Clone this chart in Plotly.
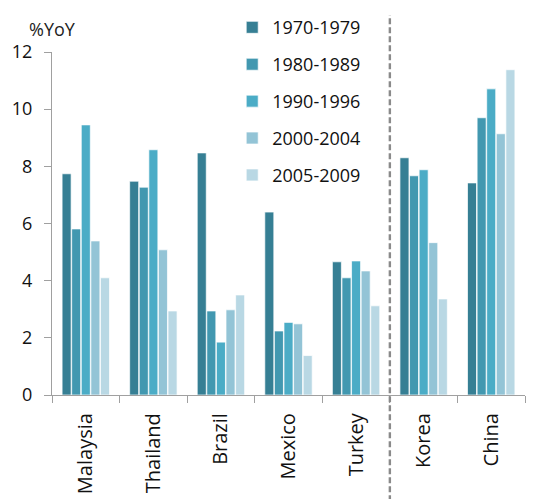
import plotly.graph_objects as go

# Average real GDP growth by period (%YoY)
countries = ["Malaysia", "Thailand", "Brazil", "Mexico", "Turkey", "Korea", "China"]
periods = ["1970-1979", "1980-1989", "1990-1996", "2000-2004", "2005-2009"]

g_1970_1979 = [7.74, 7.48, 8.47, 6.40, 4.66, 8.30, 7.42]
g_1980_1989 = [5.81, 7.27, 2.94, 2.24, 4.10, 7.67, 9.70]
g_1990_1996 = [9.45, 8.58, 1.85, 2.54, 4.69, 7.88, 10.71]
g_2000_2004 = [5.39, 5.08, 2.98, 2.49, 4.34, 5.33, 9.14]
g_2005_2009 = [4.10, 2.94, 3.50, 1.38, 3.12, 3.36, 11.38]

series = [g_1970_1979, g_1980_1989, g_1990_1996, g_2000_2004, g_2005_2009]
colors = ["#367f94", "#4298b0", "#4bacc6", "#93c4d6", "#b9d8e4"]

FONT = "Open Sans"

fig = go.Figure()
for name, vals, col in zip(periods, series, colors):
    fig.add_trace(go.Bar(
        x=countries, y=vals, name=name,
        legendgroup=name,
        marker=dict(color=col, line=dict(color="rgba(255,255,255,0.7)", width=1)),
    ))

# Dashed divider between the two country groups
fig.add_shape(type="line", xref="x", yref="paper",
              x0=4.5, x1=4.5, y0=-0.31, y1=1.108,
              line=dict(color="#8a8a8a", width=2.4, dash="6px,3px"))

fig.add_annotation(text="%YoY", xref="paper", yref="paper",
                   x=0.0, y=1.0, yshift=23, xanchor="center", yanchor="middle",
                   showarrow=False, font=dict(family=FONT, size=18, color="#222"))

fig.update_layout(
    width=539, height=499,
    margin=dict(l=52, r=14, t=52, b=104, autoexpand=False),
    paper_bgcolor="white", plot_bgcolor="white",
    barmode="group", bargap=0.29, bargroupgap=0.06,
    font=dict(family=FONT, size=18, color="#111"),
    legend=dict(x=0.381, y=1.125, xanchor="left", yanchor="top",
                bgcolor="rgba(0,0,0,0)", tracegroupgap=10.5,
                font=dict(family=FONT, size=18, color="#111")),
    xaxis=dict(type="category", tickangle=-90, showline=True, linecolor="#a0a0a0",
               linewidth=1.3, ticks="outside", tickson="boundaries", ticklen=7,
               tickcolor="#a0a0a0", showgrid=False, ticklabelstandoff=9,
               automargin=False,
               tickfont=dict(family=FONT, size=20, color="#111")),
    yaxis=dict(range=[0, 12], dtick=2, showline=True, linecolor="#a0a0a0",
               linewidth=1.3, ticks="outside", ticklen=7, tickcolor="#a0a0a0",
               showgrid=False, zeroline=False, ticklabelstandoff=8,
               automargin=False,
               tickfont=dict(family=FONT, size=18, color="#111")),
)

fig.write_html("out.html")
